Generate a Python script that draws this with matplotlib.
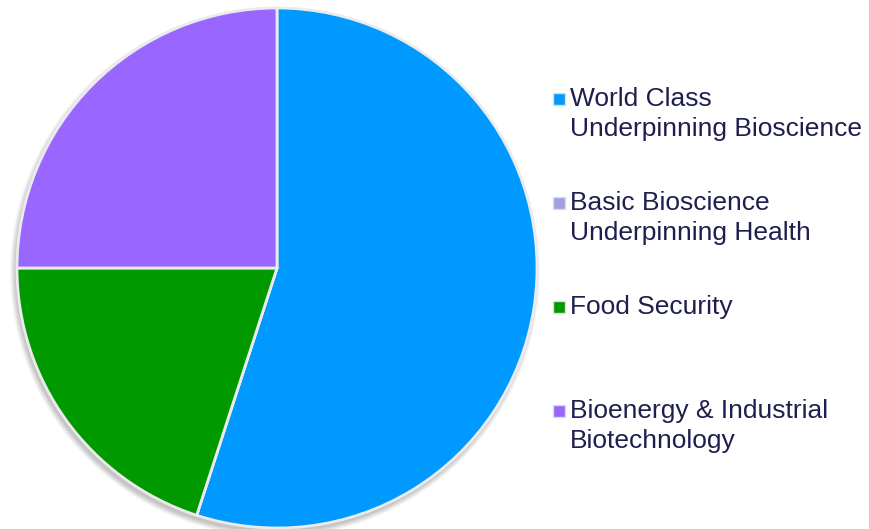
import numpy as np
import matplotlib.pyplot as plt
from matplotlib.patches import Circle

plt.rcParams['font.family'] = ['Liberation Sans', 'DejaVu Sans']

# Data
labels = ['World Class\nUnderpinning Bioscience',
          'Basic Bioscience\nUnderpinning Health',
          'Food Security',
          'Bioenergy & Industrial\nBiotechnology']
values = [55, 0, 20, 25]
colors = ['#0099FF', '#A0A0E0', '#009900', '#9966FF']

fig = plt.figure(figsize=(8.69, 5.29), dpi=100)
ax = fig.add_axes([0, 0, 1, 1])

cx, cy, r = 277, 261, 260

# soft shadow
for i in range(12):
    ax.add_patch(Circle((cx - 2, cy - 4), r + 5 - i * 0.5, color='black',
                        alpha=0.02, lw=0, zorder=0))

ax.pie(values, colors=colors, startangle=90, counterclock=False,
       center=(cx, cy), radius=r, frame=True,
       wedgeprops=dict(edgecolor='#EBEBEB', linewidth=2))
ax.set_xlim(0, 869)
ax.set_ylim(0, 529)
ax.set_aspect('equal')
ax.axis('off')

# legend
ys = [430, 326, 222, 118]
for lab, col, y in zip(labels, colors, ys):
    ax.scatter([559], [y], marker='s', s=80, color=col, edgecolor='#DDDDDD',
               linewidth=1, zorder=5)
    ax.text(570, y + 12, lab, fontsize=19, color='#1F1F4F', va='top',
            ha='left', linespacing=1.3)

fig.savefig('out.png', dpi=100)
